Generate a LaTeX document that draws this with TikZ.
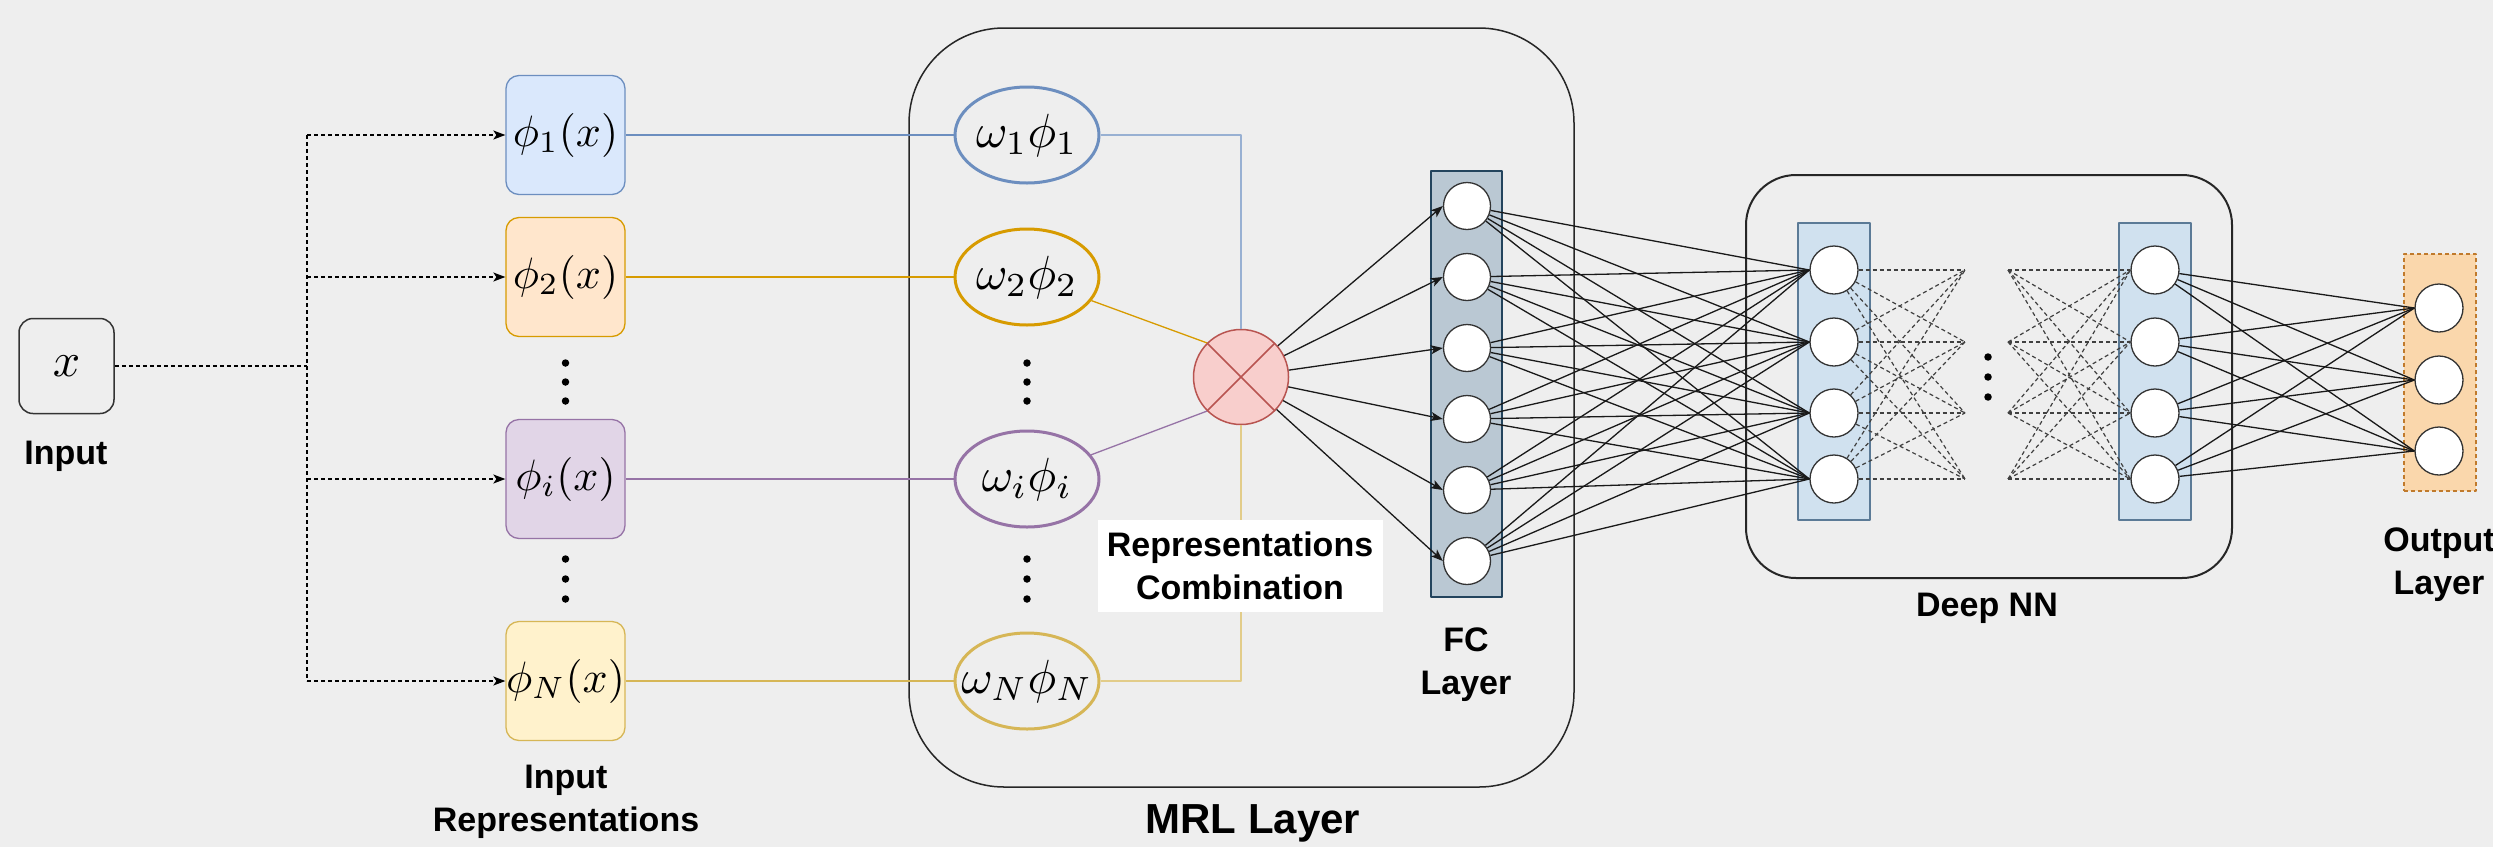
\documentclass[tikz,border=0pt]{standalone}
\usepackage{fontspec}
\setmainfont{Liberation Sans}
\usetikzlibrary{shapes.geometric,arrows.meta}

\definecolor{bg}{HTML}{EEEEEE}
\definecolor{blueS}{HTML}{6C8EBF}\definecolor{blueF}{HTML}{DAE8FC}
\definecolor{orS}{HTML}{D79B00}\definecolor{orF}{HTML}{FFE6CC}
\definecolor{puS}{HTML}{9673A6}\definecolor{puF}{HTML}{E1D5E7}
\definecolor{yeS}{HTML}{D6B656}\definecolor{yeF}{HTML}{FFF2CC}
\definecolor{combS}{HTML}{B85450}\definecolor{combF}{HTML}{F8CECC}
\definecolor{fcF}{HTML}{BAC8D3}\definecolor{fcS}{HTML}{23445D}
\definecolor{dnF}{HTML}{D0E1EF}\definecolor{dnS}{HTML}{5B7A96}
\definecolor{outF}{HTML}{FAD7AC}\definecolor{outS}{HTML}{C07A2C}

% large math, scaled from the 10pt math fonts; zero width so shapes keep their size
\newcommand{\repmath}[1]{\makebox[0pt]{\scalebox{4.4}{$#1$}}}
\newcommand{\wtmath}[1]{\makebox[0pt]{\scalebox{4.8}{$#1$}}}

\tikzset{
  lbl/.style={font=\fontsize{34}{43}\selectfont\bfseries, align=center, inner sep=0pt},
  mth/.style={inner sep=0pt},
  inbox/.style={draw=black!80, fill=bg, line width=1.5pt, rounded corners=14pt,
    minimum width=95pt, minimum height=95pt, mth},
  rep/.style={line width=1.3pt, rounded corners=13pt, minimum width=119pt,
    minimum height=119pt, mth},
  wt/.style={ellipse, line width=3pt, minimum width=144pt, minimum height=96pt, mth},
  neuron/.style={circle, draw=black!80, fill=white, line width=1.3pt,
    minimum size=47pt, inner sep=0pt},
  layerbox/.style={line width=1.3pt, inner sep=0pt},
  frame/.style={draw=black!85, line width=1.5pt, inner sep=0pt},
  dsh/.style={dash pattern=on 4pt off 3pt, line width=1.3pt, black},
  arr/.style={-{Stealth[length=12pt,width=9pt,inset=3pt]}},
  nn/.style={line width=1.3pt, black!90},
  nnd/.style={dash pattern=on 4pt off 3pt, line width=1.2pt, black!75},
  dotm/.style={circle, fill=black, inner sep=0pt, minimum size=7.5pt},
}

\begin{document}
\begin{tikzpicture}[x=1pt, y=-1pt, line join=round]
\useasboundingbox (0,0) rectangle (2493,847);
\fill[bg] (0,0) rectangle (2493,847);

% group frames
\node[frame, rounded corners=95pt, minimum width=665pt, minimum height=759pt] (mrl) at (1241.5,407.5) {};
\node[frame, line width=2pt, rounded corners=50pt, minimum width=486pt, minimum height=403pt] (dnn) at (1989,376.5) {};

% layer backgrounds
\node[layerbox, draw=fcS, fill=fcF, minimum width=71pt, minimum height=426pt] (fcbox) at (1466.5,384) {};
\node[layerbox, draw=dnS, fill=dnF, minimum width=72pt, minimum height=297pt] (dabox) at (1834,371.5) {};
\node[layerbox, draw=dnS, fill=dnF, minimum width=72pt, minimum height=297pt] (dbbox) at (2155,371.5) {};
\node[layerbox, draw=outS, fill=outF, dash pattern=on 4pt off 3pt, minimum width=72pt, minimum height=237pt] (obox) at (2440,372.5) {};

% input
\node[inbox] (x) at (66.5,366) {\wtmath{x}};
\coordinate (tr) at (307,366);

% input representations
\node[rep, draw=blueS, fill=blueF] (p1) at (565.5,135) {\repmath{\phi_1(x)}};
\node[rep, draw=orS, fill=orF] (p2) at (565.5,277) {\repmath{\phi_2(x)}};
\node[rep, draw=puS, fill=puF] (pi) at (565.5,479) {\repmath{\phi_i(x)}};
\node[rep, draw=yeS, fill=yeF] (pN) at (565.5,681) {\repmath{\phi_N(x)}};

% weighted representations
\node[wt, draw=blueS] (w1) at (1027,135) {\wtmath{\omega_1\phi_1}};
\node[wt, draw=orS] (w2) at (1027,277) {\wtmath{\omega_2\phi_2}};
\node[wt, draw=puS] (wi) at (1027,479) {\wtmath{\omega_i\phi_i}};
\node[wt, draw=yeS] (wN) at (1027,681) {\wtmath{\omega_N\phi_N}};

% vertical ellipsis dots
\foreach \cx/\nm in {565.5/a,1027/b}{
  \foreach \cy [count=\k] in {363,382,401}{\node[dotm] (\nm u\k) at (\cx,\cy) {};}
  \foreach \cy [count=\k] in {559,579,599}{\node[dotm] (\nm l\k) at (\cx,\cy) {};}
}
\foreach \cy [count=\k] in {357,377,397}{\node[dotm] (dd\k) at (1988,\cy) {};}

% combination node
\node[circle, draw=combS, fill=combF, line width=1.5pt, minimum size=95pt, inner sep=0pt] (comb) at (1241,377) {};
\draw[combS, line width=1.5pt] (comb.45) -- (comb.225) (comb.135) -- (comb.-45);

% neurons
\foreach \cy [count=\i] in {206,277,348,419,490,561}{\node[neuron] (fc\i) at (1467,\cy) {};}
\foreach \cy [count=\i] in {270,342,413,479}{
  \node[neuron, minimum size=48pt] (da\i) at (1834,\cy) {};
  \node[neuron, minimum size=48pt] (db\i) at (2155,\cy) {};
  \coordinate (pl\i) at (1965,\cy);
  \coordinate (pr\i) at (2008,\cy);
}
\foreach \cy [count=\i] in {308,380,451}{\node[neuron, minimum size=48pt] (o\i) at (2439,\cy) {};}

% input fan-out
\draw[dsh] (x.east) -- (tr);
\draw[dsh] (tr |- p1.west) -- (tr |- pN.west);
\foreach \p in {p1,p2,pi,pN}{\draw[dsh, arr] (tr |- \p.west) -- (\p.west);}

% representation to weighting
\draw[blueS, line width=1.3pt] (p1.east) -- (w1.west);
\draw[orS, line width=1.3pt] (p2.east) -- (w2.west);
\draw[puS, line width=1.3pt] (pi.east) -- (wi.west);
\draw[yeS, line width=1.3pt] (pN.east) -- (wN.west);

% weighting to combination
\draw[blueS!70, line width=1.5pt] (w1.east) -| (comb.north);
\draw[orS, line width=1.3pt] (w2) -- (comb.135);
\draw[puS, line width=1.3pt] (wi) -- (comb.225);
\draw[yeS!70, line width=1.5pt] (wN.east) -| (comb.south);

% combination to FC layer
\foreach \i in {1,...,6}{\draw[nn, arr] (comb) -- (fc\i.west);}

% FC layer to first hidden layer
\foreach \i in {1,...,6}{\foreach \j in {1,...,4}{\draw[nn] (fc\i) -- (da\j.west);}}

% hidden layers (elided)
\foreach \i in {1,...,4}{\foreach \j in {1,...,4}{
  \draw[nnd] (da\i) -- (pl\j);
  \draw[nnd] (pr\i) -- (db\j.west);
}}

% last hidden layer to output
\foreach \i in {1,...,4}{\foreach \j in {1,...,3}{\draw[nn] (db\i) -- (o\j.west);}}

% labels
\node[fill=white, minimum width=285pt, minimum height=92pt, lbl] (rc) at (1240,566) {Representations\\Combination};
\node[lbl] (lin) at (66,456) {Input};
\node[lbl] (lrep) at (566,802) {Input\\Representations};
\node[lbl, font=\fontsize{42}{50}\selectfont\bfseries] (lmrl) at (1253,823) {MRL Layer};
\node[lbl] (lfc) at (1466,665) {FC\\Layer};
\node[lbl] (ldnn) at (1987,608) {Deep NN};
\node[lbl] (lout) at (2439,565) {Output\\Layer};
\end{tikzpicture}
\end{document}
